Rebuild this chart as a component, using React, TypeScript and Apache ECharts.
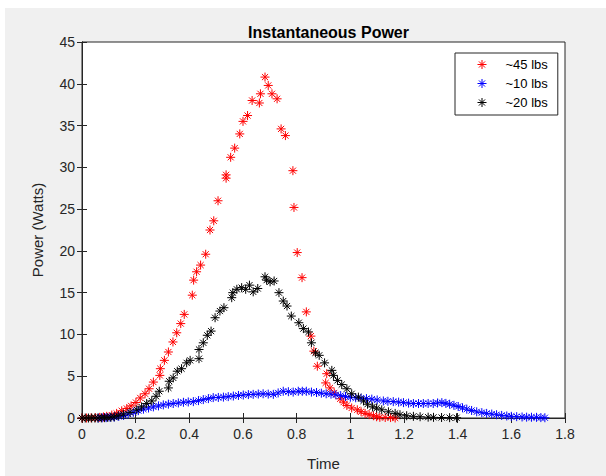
import React, { useEffect, useRef } from "react";
import * as echarts from "echarts";

const xTicks = [0, 0.2, 0.4, 0.6, 0.8, 1, 1.2, 1.4, 1.6, 1.8];
const yTicks = [0, 5, 10, 15, 20, 25, 30, 35, 40, 45];
const seriesNames = ["~45 lbs", "~10 lbs", "~20 lbs"];

const redX = [0.0, 0.017, 0.034, 0.05, 0.066, 0.08, 0.092, 0.111, 0.129, 0.148, 0.167, 0.183, 0.201, 0.217, 0.235, 0.25, 0.266, 0.29, 0.292, 0.307, 0.322, 0.339, 0.353, 0.368, 0.381, 0.411, 0.416, 0.427, 0.442, 0.461, 0.477, 0.491, 0.507, 0.537, 0.537, 0.554, 0.569, 0.588, 0.6, 0.617, 0.634, 0.661, 0.665, 0.682, 0.694, 0.708, 0.727, 0.742, 0.758, 0.786, 0.79, 0.802, 0.82, 0.836, 0.853, 0.864, 0.877, 0.908, 0.912, 0.924, 0.94, 0.962, 0.975, 0.987, 1.005, 1.026, 1.04, 1.055, 1.07, 1.086, 1.098, 1.11, 1.13, 1.15, 1.167];
const redY = [0.0, 0.0, 0.02, 0.04, 0.08, 0.13, 0.2, 0.35, 0.55, 0.86, 1.14, 1.45, 1.85, 2.4, 2.9, 3.5, 4.3, 5.1, 5.9, 6.9, 7.9, 9.1, 10.2, 11.3, 12.4, 14.7, 16.5, 17.5, 18.3, 19.6, 22.5, 23.6, 26.0, 28.7, 29.1, 31.2, 32.3, 34.0, 35.5, 36.2, 38.0, 37.7, 38.8, 40.8, 39.8, 38.8, 38.2, 34.6, 33.8, 29.6, 25.2, 19.8, 16.8, 12.7, 9.8, 8.0, 6.2, 4.2, 5.3, 3.6, 3.0, 2.3, 1.9, 1.5, 1.2, 0.98, 0.75, 0.55, 0.4, 0.27, 0.15, 0.08, 0.06, 0.05, 0.0];

const blueX = [0.06, 0.075, 0.09, 0.105, 0.12, 0.137, 0.155, 0.172, 0.191, 0.21, 0.229, 0.248, 0.266, 0.285, 0.303, 0.322, 0.34, 0.359, 0.378, 0.396, 0.415, 0.434, 0.452, 0.471, 0.489, 0.508, 0.527, 0.545, 0.564, 0.583, 0.601, 0.62, 0.638, 0.657, 0.675, 0.694, 0.713, 0.731, 0.75, 0.769, 0.787, 0.806, 0.821, 0.836, 0.855, 0.874, 0.892, 0.91, 0.928, 0.946, 0.964, 0.982, 1.0, 1.02, 1.04, 1.06, 1.08, 1.1, 1.123, 1.14, 1.16, 1.18, 1.198, 1.217, 1.235, 1.254, 1.272, 1.29, 1.309, 1.325, 1.341, 1.356, 1.37, 1.386, 1.402, 1.418, 1.434, 1.452, 1.471, 1.49, 1.508, 1.527, 1.545, 1.564, 1.583, 1.6, 1.62, 1.64, 1.657, 1.675, 1.694, 1.71, 1.725];
const blueY = [0.0, 0.02, 0.04, 0.07, 0.1, 0.2, 0.3, 0.48, 0.67, 0.88, 1.06, 1.2, 1.33, 1.45, 1.57, 1.66, 1.73, 1.8, 1.88, 1.92, 1.96, 2.08, 2.2, 2.32, 2.44, 2.46, 2.5, 2.56, 2.63, 2.7, 2.75, 2.8, 2.83, 2.87, 2.9, 2.86, 2.83, 3.0, 3.2, 3.15, 3.1, 3.2, 3.2, 3.2, 3.1, 3.05, 2.97, 2.9, 2.85, 2.78, 2.68, 2.58, 2.48, 2.42, 2.38, 2.32, 2.26, 2.16, 2.04, 2.0, 1.96, 1.9, 1.84, 1.78, 1.73, 1.73, 1.73, 1.74, 1.73, 1.8, 1.84, 1.75, 1.65, 1.52, 1.38, 1.22, 1.06, 0.9, 0.74, 0.64, 0.55, 0.47, 0.39, 0.31, 0.24, 0.2, 0.16, 0.12, 0.1, 0.09, 0.08, 0.05, 0.03];

const blackX = [0.0, 0.012, 0.024, 0.036, 0.048, 0.06, 0.072, 0.084, 0.096, 0.108, 0.12, 0.135, 0.154, 0.179, 0.204, 0.222, 0.241, 0.26, 0.276, 0.288, 0.322, 0.325, 0.34, 0.355, 0.371, 0.39, 0.403, 0.436, 0.436, 0.452, 0.467, 0.481, 0.496, 0.514, 0.529, 0.558, 0.562, 0.577, 0.595, 0.61, 0.624, 0.638, 0.655, 0.682, 0.688, 0.701, 0.716, 0.734, 0.75, 0.764, 0.78, 0.808, 0.825, 0.844, 0.855, 0.87, 0.884, 0.904, 0.931, 0.937, 0.952, 0.968, 0.987, 1.005, 1.03, 1.049, 1.064, 1.083, 1.098, 1.117, 1.142, 1.167, 1.185, 1.21, 1.235, 1.26, 1.29, 1.31, 1.34, 1.37, 1.396];
const blackY = [0.0, 0.0, 0.0, 0.0, 0.0, 0.0, 0.02, 0.04, 0.06, 0.1, 0.15, 0.28, 0.47, 0.67, 0.98, 1.33, 1.73, 2.04, 2.6, 3.2, 3.6, 4.4, 4.8, 5.6, 5.9, 6.6, 6.9, 7.1, 8.2, 9.0, 9.9, 10.4, 12.0, 12.8, 13.2, 14.4, 15.0, 15.4, 15.6, 15.4, 15.9, 15.1, 15.5, 16.9, 16.5, 16.3, 16.4, 15.0, 14.0, 13.4, 12.2, 11.4, 10.7, 10.3, 9.0, 7.8, 7.5, 6.6, 5.7, 5.1, 4.5, 4.0, 3.5, 2.9, 2.5, 2.04, 1.65, 1.33, 1.18, 0.98, 0.74, 0.55, 0.39, 0.27, 0.2, 0.15, 0.1, 0.08, 0.06, 0.04, 0.03];

const colors = ["#ff0000", "#0000ff", "#000000"];
const FONT = "'Liberation Sans', Arial, Helvetica, sans-serif";
const ASTERISK = "path://M5,0L5,10M0,5L10,5M1.6,1.6L8.4,8.4M1.6,8.4L8.4,1.6";

function zip(xs: number[], ys: number[]) {
  return xs.map((x, i) => [x, ys[i]]);
}

export default function App() {
  const ref = useRef<HTMLDivElement>(null);
  useEffect(() => {
    document.body.style.margin = "0";
    const chart = echarts.init(ref.current!, null, { renderer: "svg" });
    const axisColor = "#262626";
    const datasets = [zip(redX, redY), zip(blueX, blueY), zip(blackX, blackY)];
    chart.setOption({
      animation: false,
      backgroundColor: "#ffffff",
      graphic: [
        {
          type: "rect",
          z: -10,
          silent: true,
          shape: { x: 5, y: 8, width: 601, height: 468 },
          style: { fill: "#f0f0f0" },
        },
      ],
      title: {
        text: "Instantaneous Power",
        left: 323.5,
        top: 19,
        textAlign: "center",
        textStyle: { fontFamily: FONT, fontWeight: "bold", fontSize: 16, color: "#000000" },
      },
      legend: {
        left: 455,
        top: 53,
        orient: "vertical",
        data: seriesNames.map((n, i) => ({
          name: n,
          icon: ASTERISK,
          itemStyle: { color: "rgba(0,0,0,0)", borderColor: colors[i], borderWidth: 1 },
        })),
        backgroundColor: "#ffffff",
        borderColor: axisColor,
        borderWidth: 1,
        borderRadius: 0,
        padding: [4, 10, 5, 22],
        itemWidth: 9,
        itemHeight: 9,
        itemGap: 4,
        textStyle: { fontFamily: FONT, fontSize: 13, color: "#000000", lineHeight: 15, padding: [0, 0, 0, 14] },
      },
      grid: {
        left: 82,
        top: 42,
        right: 41,
        bottom: 52,
        show: true,
        backgroundColor: "#ffffff",
        borderColor: axisColor,
        borderWidth: 1,
      },
      xAxis: [
        {
          type: "value",
          min: 0,
          max: 1.8,
          interval: 0.2,
          name: "Time",
          nameLocation: "middle",
          nameGap: 38,
          nameTextStyle: { fontFamily: FONT, fontSize: 15, color: axisColor },
          axisLine: { show: true, lineStyle: { color: axisColor } },
          axisTick: { show: true, inside: true, length: 5, lineStyle: { color: axisColor } },
          axisLabel: {
            margin: 9,
            fontFamily: FONT,
            fontSize: 14,
            color: axisColor,
            formatter: (v: number) => {
              const t = xTicks.find((k) => Math.abs(k - v) < 1e-6);
              return String(t !== undefined ? t : v);
            },
          },
          splitLine: { show: false },
        },
        {
          type: "value",
          position: "top",
          min: 0,
          max: 1.8,
          interval: 0.2,
          axisLine: { show: true, lineStyle: { color: axisColor } },
          axisTick: { show: true, inside: true, length: 5, lineStyle: { color: axisColor } },
          axisLabel: { show: false },
          splitLine: { show: false },
        },
      ],
      yAxis: [
        {
          type: "value",
          min: 0,
          max: 45,
          interval: 5,
          name: "Power (Watts)",
          nameLocation: "middle",
          nameGap: 37,
          nameTextStyle: { fontFamily: FONT, fontSize: 15, color: axisColor },
          axisLine: { show: true, lineStyle: { color: axisColor } },
          axisTick: { show: true, inside: true, length: 5, lineStyle: { color: axisColor } },
          axisLabel: {
            margin: 7,
            fontFamily: FONT,
            fontSize: 14,
            color: axisColor,
            formatter: (v: number) => {
              const t = yTicks.find((k) => Math.abs(k - v) < 1e-6);
              return String(t !== undefined ? t : v);
            },
          },
          splitLine: { show: false },
        },
        {
          type: "value",
          position: "right",
          min: 0,
          max: 45,
          interval: 5,
          axisLine: { show: true, lineStyle: { color: axisColor } },
          axisTick: { show: true, inside: true, length: 5, lineStyle: { color: axisColor } },
          axisLabel: { show: false },
          splitLine: { show: false },
        },
      ],
      series: seriesNames.map((name, i) => ({
        name,
        type: "scatter",
        xAxisIndex: 0,
        yAxisIndex: 0,
        symbol: ASTERISK,
        symbolSize: 9,
        data: datasets[i],
        itemStyle: { color: colors[i], borderColor: colors[i], borderWidth: 1, opacity: 1 },
        emphasis: { disabled: true },
      })),
    });
    return () => chart.dispose();
  }, []);
  return <div ref={ref} style={{ width: 606, height: 476 }} />;
}
